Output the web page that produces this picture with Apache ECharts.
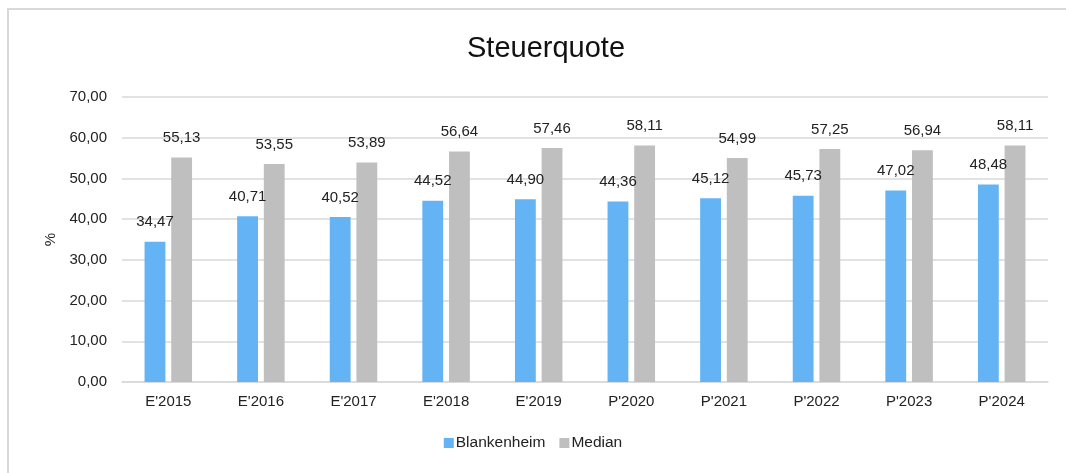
<!DOCTYPE html>
<html><head><meta charset="utf-8">
<script src="https://cdn.jsdelivr.net/npm/echarts@6/dist/echarts.min.js"></script>
<style>html,body{margin:0;padding:0;background:#fff}#c{width:1066px;height:473px}</style>
</head><body><div id="c"></div>
<script>
const categories = ["E'2015","E'2016","E'2017","E'2018","E'2019","P'2020","P'2021","P'2022","P'2023","P'2024"];
const blankenheim = [34.47,40.71,40.52,44.52,44.90,44.36,45.12,45.73,47.02,48.48];
const median = [55.13,53.55,53.89,56.64,57.46,58.11,54.99,57.25,56.94,58.11];
const fmt = v => v.toFixed(2).replace('.', ',');
const chart = echarts.init(document.getElementById('c'));
const font = 'Liberation Sans, Arial, sans-serif';
chart.setOption({
  animation:false,
  textStyle:{fontFamily:font},
  graphic:[{type:'rect',shape:{x:8,y:9,width:1200,height:600},style:{fill:'none',stroke:'#d9d9d9',lineWidth:2},silent:true}],
  title:{text:'Steuerquote',left:462,top:29,textStyle:{fontSize:29,fontWeight:'normal',color:'#111',fontFamily:font}},
  legend:{top:430,left:'center',itemWidth:10,itemHeight:10,itemGap:14,icon:'rect',textStyle:{fontSize:15.5,color:'#222',fontFamily:font,padding:[0,0,0,-3]},data:['Blankenheim','Median']},
  grid:{left:122,right:18,top:97,bottom:91,containLabel:false},
  xAxis:{type:'category',data:categories,axisLine:{lineStyle:{color:'#d9d9d9',width:1.5}},axisTick:{show:false},axisLabel:{fontSize:15,color:'#222',margin:12}},
  yAxis:{type:'value',min:0,max:70,interval:10,name:'%',nameLocation:'middle',nameGap:62,nameRotate:90,nameTextStyle:{fontSize:15,color:'#222'},
    axisLabel:{fontSize:15,color:'#222',formatter:v=>fmt(v),margin:15},splitLine:{lineStyle:{color:'#d9d9d9',width:1.5}},axisLine:{show:false}},
  series:[
    {name:'Blankenheim',type:'bar',data:blankenheim,barWidth:'22.5%',barGap:'28%',itemStyle:{color:'#63b3f5'},
     label:{show:true,position:'top',distance:12,fontSize:15,color:'#222',formatter:p=>fmt(p.value)}},
    {name:'Median',type:'bar',data:median,barWidth:'22.5%',barGap:'28%',itemStyle:{color:'#bfbfbf'},
     label:{show:true,position:'top',distance:12,fontSize:15,color:'#222',formatter:p=>fmt(p.value)}}
  ]
});
</script></body></html>
